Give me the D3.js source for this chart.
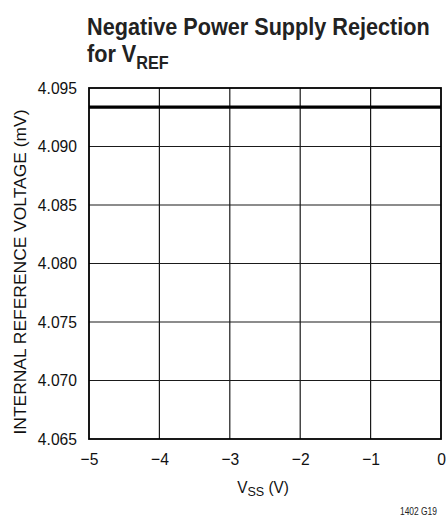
<!DOCTYPE html>
<html><head><meta charset="utf-8">
<script src="https://cdn.jsdelivr.net/npm/d3@7"></script>
<style>body{margin:0;background:#fff}svg{display:block}</style>
</head><body>
<script>
const xValues = [-5, -4, -3, -2, -1, 0];
const yValues = [4.09336, 4.09336, 4.09336, 4.09336, 4.09336, 4.09336];
const xTicks = [-5, -4, -3, -2, -1, 0];
const yTicks = [4.065, 4.070, 4.075, 4.080, 4.085, 4.090, 4.095];

const W = 447, H = 520;
const m = {l: 89, r: 6, t: 88, b: 81};
const font = "'Liberation Sans',Arial,Helvetica,sans-serif";
const svg = d3.select("body").append("svg").attr("width", W).attr("height", H);
const x = d3.scaleLinear().domain([-5, 0]).range([m.l, W - m.r]);
const y = d3.scaleLinear().domain([4.065, 4.095]).range([H - m.b, m.t]);

function condense(sel, k) {
  sel.each(function () {
    const w = this.getComputedTextLength();
    d3.select(this).attr("textLength", w * k).attr("lengthAdjust", "spacingAndGlyphs");
  });
}
function fit(sel, target) {
  sel.attr("textLength", target).attr("lengthAdjust", "spacingAndGlyphs");
}

// grid
svg.append("g").selectAll("line").data(xTicks.slice(1, -1)).join("line")
  .attr("x1", d => x(d)).attr("x2", d => x(d)).attr("y1", y(4.095)).attr("y2", y(4.065))
  .attr("stroke", "#1a1a1a").attr("stroke-width", 1.2);
svg.append("g").selectAll("line").data(yTicks.slice(1, -1)).join("line")
  .attr("y1", d => y(d)).attr("y2", d => y(d)).attr("x1", x(-5)).attr("x2", x(0))
  .attr("stroke", "#1a1a1a").attr("stroke-width", 1.2);
// frame
svg.append("rect").attr("x", x(-5)).attr("y", y(4.095)).attr("width", x(0) - x(-5)).attr("height", y(4.065) - y(4.095))
  .attr("fill", "none").attr("stroke", "#000").attr("stroke-width", 1.8);

// data
svg.append("path").datum(xValues.map((v, i) => [v, yValues[i]]))
  .attr("d", d3.line().x(d => x(d[0])).y(d => y(d[1])))
  .attr("fill", "none").attr("stroke", "#000").attr("stroke-width", 3.2);

// axes
const yAxis = d3.axisLeft(y).tickValues(yTicks).tickFormat(d3.format(".3f")).tickSize(0).tickPadding(12);
const gy = svg.append("g").attr("transform", `translate(${x(-5)},0)`).call(yAxis);
gy.select(".domain").remove();
gy.selectAll("text").attr("font-family", font).attr("font-size", 17).attr("fill", "#111");
condense(gy.selectAll("text"), 0.92);

const xAxis = d3.axisBottom(x).tickValues(xTicks).tickFormat(d => d < 0 ? "\u2212" + Math.abs(d) : d).tickSize(0).tickPadding(14);
const gx = svg.append("g").attr("transform", `translate(0,${y(4.065)})`).call(xAxis);
gx.select(".domain").remove();
gx.selectAll("text").attr("font-family", font).attr("font-size", 17).attr("fill", "#111");
condense(gx.selectAll("text"), 0.92);

// axis titles
const xt = svg.append("text").attr("x", 263).attr("y", 493).attr("text-anchor", "middle")
  .attr("font-family", font).attr("font-size", 16.5).attr("fill", "#111");
xt.append("tspan").text("V");
xt.append("tspan").text("SS").attr("font-size", 13.5).attr("dy", 3);
xt.append("tspan").text(" (V)").attr("dy", -3);
condense(xt, 0.93);

const yl = svg.append("text").attr("transform", `translate(26,${272}) rotate(-90)`)
  .attr("text-anchor", "middle").attr("font-family", font).attr("font-size", 16.5).attr("fill", "#111")
  .text("INTERNAL REFERENCE VOLTAGE (mV)");
fit(yl, 325);

// title (condensed with a horizontal scale)
const tg = svg.append("g").attr("transform", "translate(87,0)");
const t1 = tg.append("text").attr("x", 0).attr("y", 35).attr("font-family", font).attr("font-weight", "bold")
  .attr("font-size", 24).attr("fill", "#222").text("Negative Power Supply Rejection");
const k = 343 / t1.node().getComputedTextLength();
tg.attr("transform", `translate(87,0) scale(${k},1)`);
const t2 = tg.append("text").attr("x", 0).attr("y", 62).attr("font-family", font).attr("font-weight", "bold")
  .attr("font-size", 24).attr("fill", "#222");
t2.append("tspan").text("for V");
t2.append("tspan").text("REF").attr("font-size", 18).attr("dy", 7);

const note = svg.append("text").attr("x", 437).attr("y", 515).attr("text-anchor", "end")
  .attr("font-family", font).attr("font-size", 10).attr("fill", "#222").text("1402 G19");
fit(note, 37);
</script>
</body></html>
